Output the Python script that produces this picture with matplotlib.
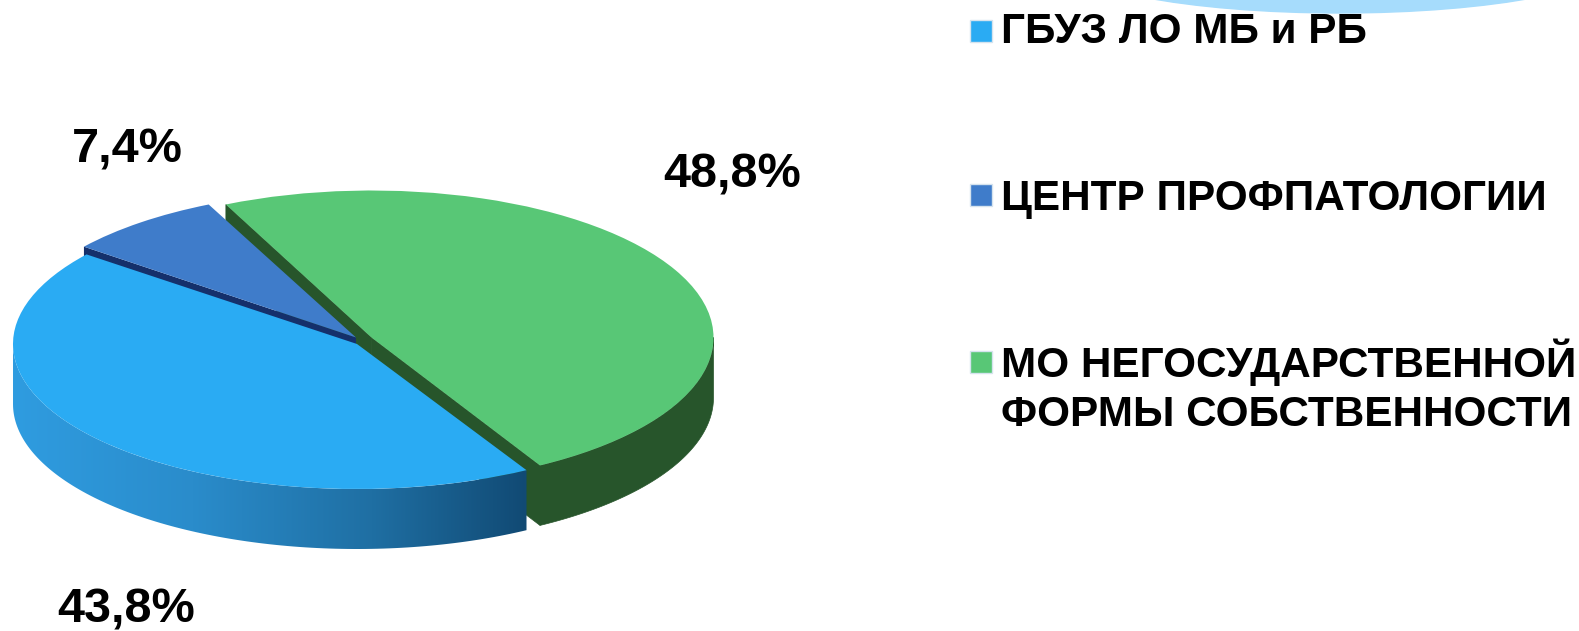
import numpy as np
import matplotlib
matplotlib.use("Agg")
import matplotlib.pyplot as plt
from matplotlib.patches import Wedge, Polygon, Rectangle, Ellipse
from matplotlib.colors import LinearSegmentedColormap
from matplotlib.transforms import Affine2D

plt.rcParams['font.family'] = ['Liberation Sans', 'DejaVu Sans']

# values, clockwise from the top of the green slice
categories = ['МО НЕГОСУДАРСТВЕННОЙ\nФОРМЫ СОБСТВЕННОСТИ', 'ГБУЗ ЛО МБ и РБ', 'ЦЕНТР ПРОФПАТОЛОГИИ']
values = [48.8, 43.8, 7.4]
value_labels = ['48,8%', '43,8%', '7,4%']
face_colors = ['#58c776', '#2aabf3', '#3f7cca']
wall_colors = ['#27552b', '#2a8fd0', '#15306b']

start_angle = 115.2
radii = [(342, 147), (344, 145), (346, 147)]
depth = 60
centers = [(371.5, 337.5), (357, 344), (356, 337.5)]

fig = plt.figure(figsize=(15.79, 6.31), dpi=100)
ax = fig.add_axes([0, 0, 1, 1])
ax.set_xlim(0, 1579)
ax.set_ylim(631, 0)
ax.axis('off')

# corner of the slide decoration
ax.add_patch(Ellipse((1340, -42), 560, 110, color='#a6dcfc', zorder=1))

# slice angles from the values
sweeps = np.array(values) / sum(values) * 360
ends = start_angle - np.cumsum(sweeps)
starts = ends + sweeps


def ring(i, t1, t2, n=120):
    t = np.radians(np.linspace(t1, t2, n))
    return np.column_stack([centers[i][0] + radii[i][0] * np.cos(t), centers[i][1] - radii[i][1] * np.sin(t)])


def wall_outline(i, t1, t2):
    # arc t1..t2 extruded downwards
    top = ring(i, t1, t2)
    bottom = top + [0, depth]
    return np.vstack([top, bottom[::-1]])


def cut_outline(i, t):
    a = np.array(centers[i], dtype=float)
    p = ring(i, t, t, 1)[0]
    return np.array([a, p, p + [0, depth], a + [0, depth]])


def face(i):
    tr = Affine2D().scale(radii[i][0], -radii[i][1]).translate(*centers[i]) + ax.transData
    return Wedge((0, 0), 1, ends[i], starts[i], transform=tr, facecolor=face_colors[i], edgecolor='none', zorder=5 + i)


# green walls: front arc and both cut sides
for poly in [wall_outline(0, ends[0], 0), cut_outline(0, ends[0]), cut_outline(0, starts[0])]:
    ax.add_patch(Polygon(poly, facecolor=wall_colors[0], edgecolor=wall_colors[0], lw=0.5, zorder=2))

# dark blue slice wall, seen in the gap to the blue slice
ax.add_patch(Polygon(cut_outline(2, starts[2]), facecolor=wall_colors[2], edgecolor='none', zorder=3))

# blue wall with left to right shading
blue_wall = wall_outline(1, 180, ends[0] + 360)
cmap = LinearSegmentedColormap.from_list('wall', [(0, '#2f9ce0'), (0.35, '#2a8ccb'), (0.7, '#1f6fa3'), (1, '#114a74')])
img = ax.imshow(np.linspace(0, 1, 256).reshape(1, -1), cmap=cmap, aspect='auto', zorder=4,
                extent=[blue_wall[:, 0].min(), blue_wall[:, 0].max(), blue_wall[:, 1].max(), blue_wall[:, 1].min()])
img.set_clip_path(Polygon(blue_wall, transform=ax.transData))
ax.set_xlim(0, 1579)
ax.set_ylim(631, 0)

ax.add_patch(face(2))
ax.add_patch(face(1))
ax.add_patch(face(0))

# value labels
label_pos = [(732, 175), (126, 610), (127, 150)]
for txt, pos in zip(value_labels, label_pos):
    ax.text(pos[0], pos[1], txt, fontsize=35, fontweight='bold', ha='center', va='center', color='black', zorder=10)

# legend
marker_y = [31, 195, 362]
line_y = [[43], [210], [377, 426]]
legend_order = [1, 2, 0]
for my, ys, i in zip(marker_y, line_y, legend_order):
    ax.add_patch(Rectangle((970, my - 11), 22, 22, facecolor=face_colors[i], edgecolor='#d5e3ee', lw=1, zorder=10))
    for y, line in zip(ys, categories[i].split('\n')):
        ax.text(1001, y, line, fontsize=30.4, fontweight='bold', ha='left', va='baseline', color='black', zorder=10)

fig.savefig('out.png', dpi=100)
